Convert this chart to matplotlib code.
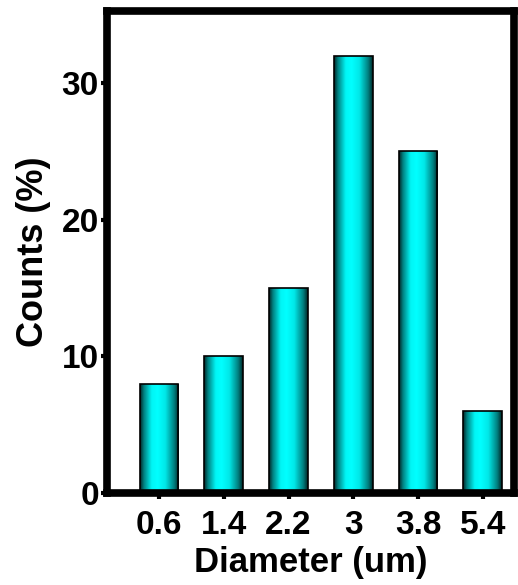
import numpy as np
import matplotlib
matplotlib.use("Agg")
import matplotlib.pyplot as plt
from matplotlib.colors import LinearSegmentedColormap

plt.rcParams['font.family'] = ['Liberation Sans', 'DejaVu Sans']
plt.rcParams['font.weight'] = 'bold'

# data
diameters = ['0.6', '1.4', '2.2', '3', '3.8', '5.4']
counts = [8, 10, 15, 32, 25, 6]

fig = plt.figure(figsize=(5.18, 5.85), dpi=100)
ax = fig.add_axes([0.207, 0.157, 0.785, 0.825])

pos = np.arange(len(diameters))
width = 0.6
bars = ax.bar(pos, counts, width=width, color='none', edgecolor='black',
              linewidth=1.2, zorder=3)

# horizontal cyan gradient, dark at the edges
cmap = LinearSegmentedColormap.from_list(
    'cyan_tube', [(0.0, '#002525'), (0.1, '#008080'), (0.3, '#00f5f5'),
                  (0.45, '#00ffff'), (0.65, '#00e8e8'), (0.88, '#007f7f'),
                  (1.0, '#002525')])
grad = np.linspace(0, 1, 256).reshape(1, -1)
for b in bars:
    x0, y0 = b.get_x(), b.get_y()
    im = ax.imshow(grad, cmap=cmap, aspect='auto', zorder=2,
                   extent=[x0, x0 + b.get_width(), y0, y0 + b.get_height()])
    im.set_clip_path(b)

ax.set_xlim(-0.8, 5.48)
ax.set_ylim(0, 35.3)
ax.set_xticks(pos)
ax.set_xticklabels(diameters)
ax.set_yticks([0, 10, 20, 30])

for s in ax.spines.values():
    s.set_linewidth(5.5)
ax.tick_params(direction='out', length=4, width=3, labelsize=24, pad=2)
ax.tick_params(axis='x', pad=8)

ax.set_xlabel('Diameter (um)', fontsize=25, fontweight='bold', labelpad=4)
ax.set_ylabel('Counts (%)', fontsize=26, fontweight='bold', labelpad=8)

fig.savefig('out.png', dpi=100)
